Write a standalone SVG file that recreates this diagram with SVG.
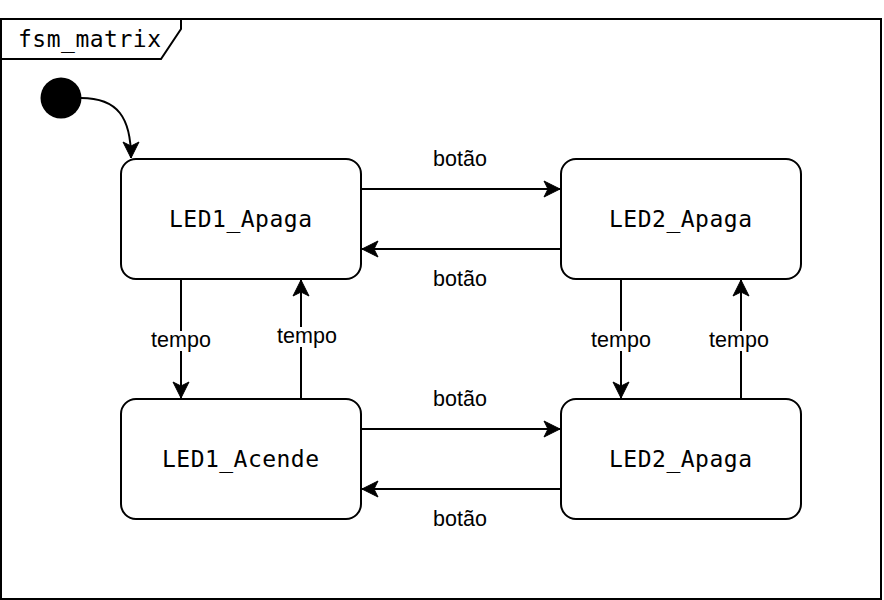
<svg xmlns="http://www.w3.org/2000/svg" width="884" height="600" viewBox="0 0 884 600">
<defs>
<style>
.frame{fill:#fff;stroke:#000;stroke-width:2}
.state{fill:#fff;stroke:#000;stroke-width:2}
.mono{font-family:"DejaVu Sans Mono","Liberation Mono",monospace;font-size:23px;fill:#000}
.lbl{font-family:"Liberation Sans",Arial,sans-serif;font-size:21.5px;fill:#000;text-anchor:middle}
.edge{fill:none;stroke:#000;stroke-width:2;marker-end:url(#arr)}
.bg{fill:#fff}
</style>
<marker id="arr" markerUnits="userSpaceOnUse" viewBox="-17 -9 18 18" refX="0" refY="0" markerWidth="18" markerHeight="18" orient="auto">
<path d="M0,0 L-16,-8 L-12,0 L-16,8 Z" fill="#000" stroke="#000" stroke-width="1" stroke-linejoin="miter"/>
</marker>
</defs>
<g id="frame">
<rect class="frame" x="1" y="19" width="880" height="580"/>
<path d="M1,19 H181 V29 L161,59 H1 Z" fill="#fff" stroke="#000" stroke-width="2"/>
<text class="mono" x="18" y="46.5" textLength="143" lengthAdjust="spacing">fsm_matrix</text>
</g>
<g id="start">
<circle cx="61" cy="98" r="20.5" fill="#000"/>
</g>
<g id="LED1_Apaga">
<rect class="state" x="121" y="159" width="240" height="120" rx="15"/>
<text class="mono" x="240.5" y="226.5" text-anchor="middle" textLength="143" lengthAdjust="spacing">LED1_Apaga</text>
</g>
<g id="LED2_Apaga_top">
<rect class="state" x="561" y="159" width="240" height="120" rx="15"/>
<text class="mono" x="680.5" y="226.5" text-anchor="middle" textLength="143" lengthAdjust="spacing">LED2_Apaga</text>
</g>
<g id="LED1_Acende">
<rect class="state" x="121" y="399" width="240" height="120" rx="15"/>
<text class="mono" x="240.5" y="466.5" text-anchor="middle" textLength="157" lengthAdjust="spacing">LED1_Acende</text>
</g>
<g id="LED2_Apaga_bottom">
<rect class="state" x="561" y="399" width="240" height="120" rx="15"/>
<text class="mono" x="680.5" y="466.5" text-anchor="middle" textLength="143" lengthAdjust="spacing">LED2_Apaga</text>
</g>
<g id="connectors">
<path class="edge" d="M81,98 C118,98 131,118 131,158"/>
<path class="edge" d="M361,189 H560"/>
<path class="edge" d="M561,249 H362"/>
<path class="edge" d="M361,429 H560"/>
<path class="edge" d="M561,489 H362"/>
<path class="edge" d="M181,279 V398"/>
<path class="edge" d="M301,399 V280"/>
<path class="edge" d="M621,279 V398"/>
<path class="edge" d="M741,399 V280"/>
<text class="lbl" x="460" y="166">botão</text>
<text class="lbl" x="460" y="286">botão</text>
<text class="lbl" x="460" y="406">botão</text>
<text class="lbl" x="460" y="526">botão</text>
<rect class="bg" x="150" y="331" width="62" height="20"/>
<text class="lbl" x="181" y="347">tempo</text>
<rect class="bg" x="276" y="327" width="62" height="20"/>
<text class="lbl" x="307" y="343">tempo</text>
<rect class="bg" x="590" y="331" width="62" height="20"/>
<text class="lbl" x="621" y="347">tempo</text>
<rect class="bg" x="708" y="331" width="62" height="20"/>
<text class="lbl" x="739" y="347">tempo</text>
</g>
</svg>
